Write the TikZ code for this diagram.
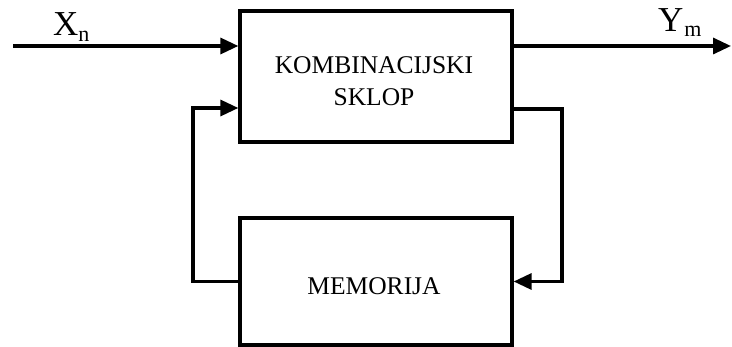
\documentclass[tikz,border=0pt]{standalone}
\usepackage{fontspec}
\setmainfont{Liberation Serif}
\usetikzlibrary{arrows.meta}
\begin{document}
\begin{tikzpicture}[x=1pt,y=-1pt,
  blk/.style={draw,line width=3.3pt,inner sep=0pt},
  txt/.style={inner sep=0pt,align=center,font=\fontsize{25.5}{32}\selectfont},
  arr/.style={line width=3.3pt,miter limit=10,-{Triangle[length=18pt,width=16pt]}},
  sig/.style={inner sep=0pt,anchor=base west,font=\fontsize{35}{35}\selectfont}]
\useasboundingbox (0,0) rectangle (732,347);
\node[blk,minimum width=272pt,minimum height=131pt] (top) at (376,76.5) {};
\node[blk,minimum width=272pt,minimum height=127pt] (mem) at (376,281.5) {};
\node[txt] (topt) at (374,81) {KOMBINACIJSKI\\SKLOP};
\node[txt] (memt) at (374,286) {MEMORIJA};
\coordinate (in) at (13,46);
\coordinate (out) at (731,46);
\coordinate (la) at (193,108);
\coordinate (ra) at (562,109);
\draw[arr] (in) -- (top.west |- in);
\draw[arr] (top.east |- out) -- (out);
\draw[arr] (top.east |- ra) -- (ra) |- (mem.east);
\draw[arr] (mem.west) -| (la) -- (top.west |- la);
\node[sig] (xn) at (53,36) {X\raisebox{-6pt}{\fontsize{22}{22}\selectfont n}};
\node[sig] (ym) at (658,32) {Y\hspace{1pt}\raisebox{-5pt}{\fontsize{22}{22}\selectfont m}};
\end{tikzpicture}
\end{document}
